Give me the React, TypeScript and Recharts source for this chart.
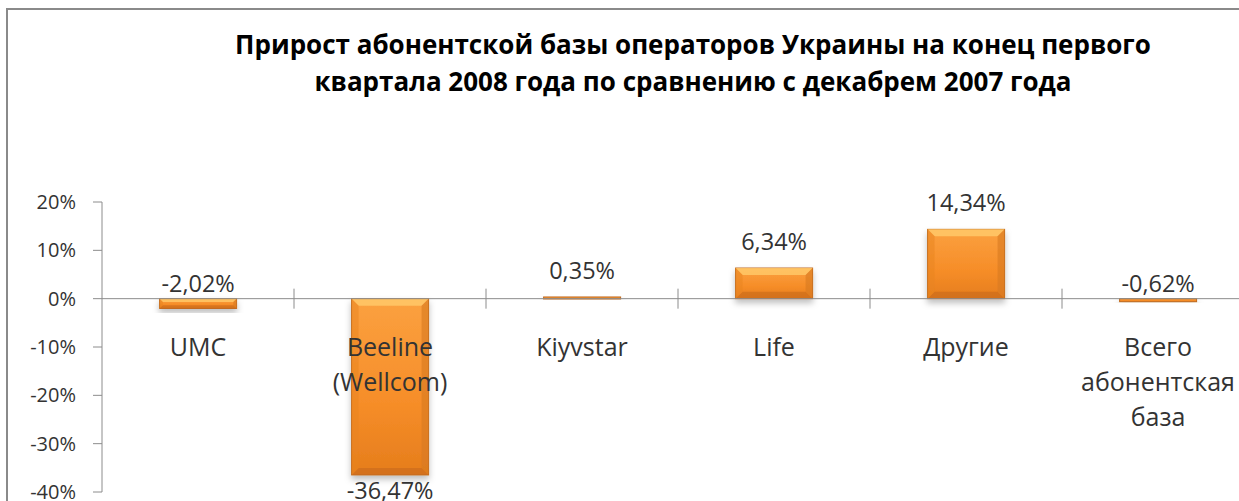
import React from 'react';
import { BarChart, Bar, XAxis, YAxis, ReferenceLine, LabelList } from 'recharts';

const categories = ['UMC', 'Beeline\n(Wellcom)', 'Kiyvstar', 'Life', 'Другие', 'Всего\nабонентская\nбаза'];
const growth = [-2.02, -36.47, 0.35, 6.34, 14.34, -0.62];
const yTicks = [-40, -30, -20, -10, 0, 10, 20];

const data = categories.map((name, i) => ({ name, value: growth[i] }));

const FONT = '"Open Sans", "Noto Sans", sans-serif';
const CHART_W = 1300;
const CHART_H = 540;
const TOP = 202;
const PLOT_H = 290;
const PLOT_W = 1152;
const LEFT = 102;
const ZERO_Y = TOP + PLOT_H * (20 / 60);
const BAND = PLOT_W / categories.length;

const fmt = (v: number) => v.toFixed(2).replace('.', ',') + '%';

const CategoryTick = (props: any) => {
  const { x, payload, index } = props;
  const lines = String(payload.value).split('\n');
  const left = x - BAND / 2;
  return (
    <g>
      {index > 0 && (
        <line x1={left} x2={left} y1={ZERO_Y - 10} y2={ZERO_Y + 10} stroke="#8c8c8c" strokeWidth={1} />
      )}
      <text x={x} y={ZERO_Y + 57} textAnchor="middle" fill="#333" fontSize={25} fontFamily={FONT}>
        {lines.map((l, i) => (
          <tspan key={i} x={x} dy={i === 0 ? 0 : 35}>
            {l}
          </tspan>
        ))}
      </text>
    </g>
  );
};

const BevelBar = (props: any) => {
  const { x, y, width, height } = props;
  const top = Math.min(y, y + height);
  const h = Math.max(Math.abs(height), 2);
  const b = Math.min(7, h / 3);
  return (
    <g filter="url(#barShadow)">
      <rect x={x} y={top} width={width} height={h} fill="url(#barGrad)" stroke="#c06a1e" strokeWidth={1} />
      {h > 8 && (
        <>
          <polygon
            points={`${x},${top} ${x + width},${top} ${x + width - b},${top + b} ${x + b},${top + b}`}
            fill="#ffc868"
            opacity={0.85}
          />
          <polygon
            points={`${x},${top + h} ${x + width},${top + h} ${x + width - b},${top + h - b} ${x + b},${top + h - b}`}
            fill="#c8691a"
            opacity={0.6}
          />
          <polygon
            points={`${x + width},${top} ${x + width},${top + h} ${x + width - b},${top + h - b} ${x + width - b},${top + b}`}
            fill="#d77a22"
            opacity={0.6}
          />
          <polygon
            points={`${x},${top} ${x},${top + h} ${x + b},${top + h - b} ${x + b},${top + b}`}
            fill="#e8831f"
            opacity={0.5}
          />
        </>
      )}
    </g>
  );
};

const ValueLabel = (props: any) => {
  const { x, y, width, height, value } = props;
  const top = Math.min(y, y + height);
  const bottom = Math.max(y, y + height);
  let ty = top - 18;
  if (value < 0 && value > -5) ty = top - 7;
  if (value <= -5) ty = bottom + 24;
  return (
    <text x={x + width / 2} y={ty} textAnchor="middle" fill="#333" fontSize={23.5} fontFamily={FONT}>
      {fmt(value)}
    </text>
  );
};

export default function App() {
  return (
    <div
      style={{
        position: 'absolute',
        left: 0,
        top: 0,
        width: 1239,
        height: 501,
        overflow: 'hidden',
        background: '#fff',
      }}
    >
      <div
        style={{
          position: 'absolute',
          left: 6,
          top: 8,
          width: 1400,
          height: 700,
          border: '2px solid #8a8a8a',
        }}
      />
      <div
        style={{
          position: 'absolute',
          left: 693 - 600,
          top: 26,
          width: 1200,
          textAlign: 'center',
          fontFamily: FONT,
          fontWeight: 700,
          fontSize: 26,
          lineHeight: '37px',
          color: '#000',
        }}
      >
        Прирост абонентской базы операторов Украины на конец первого
        <br />
        квартала 2008 года по сравнению с декабрем 2007 года
      </div>
      <div style={{ position: 'absolute', left: 0, top: 0 }}>
        <BarChart
          width={CHART_W}
          height={CHART_H}
          data={data}
          margin={{ top: TOP, right: CHART_W - LEFT - PLOT_W, bottom: CHART_H - TOP - PLOT_H - 1, left: LEFT - 60 }}
          barCategoryGap="30%"
        >
          <defs>
            <linearGradient id="barGrad" x1="0" y1="0" x2="0" y2="1">
              <stop offset="0%" stopColor="#fba140" />
              <stop offset="60%" stopColor="#f68d28" />
              <stop offset="100%" stopColor="#e57d1c" />
            </linearGradient>
            <filter id="barShadow" x="-20%" y="-20%" width="140%" height="160%">
              <feDropShadow dx="0" dy="4" stdDeviation="3" floodColor="#000" floodOpacity="0.25" />
            </filter>
          </defs>
          <XAxis
            dataKey="name"
            height={1}
            axisLine={false}
            tickLine={false}
            tickSize={0}
            tick={<CategoryTick />}
            interval={0}
          />
          <YAxis
            width={60}
            domain={[-40, 20]}
            ticks={yTicks}
            tickFormatter={(v: number) => `${v}%`}
            axisLine={{ stroke: '#8c8c8c' }}
            tickLine={{ stroke: '#8c8c8c' }}
            tickSize={9}
            tickMargin={17}
            tick={{ fill: '#333', fontSize: 20, fontFamily: FONT }}
            allowDataOverflow
          />
          <ReferenceLine y={0} stroke="#8c8c8c" strokeWidth={1} ifOverflow="extendDomain" />
          <Bar dataKey="value" isAnimationActive={false} shape={<BevelBar />}>
            <LabelList dataKey="value" content={<ValueLabel />} />
          </Bar>
        </BarChart>
      </div>
    </div>
  );
}
